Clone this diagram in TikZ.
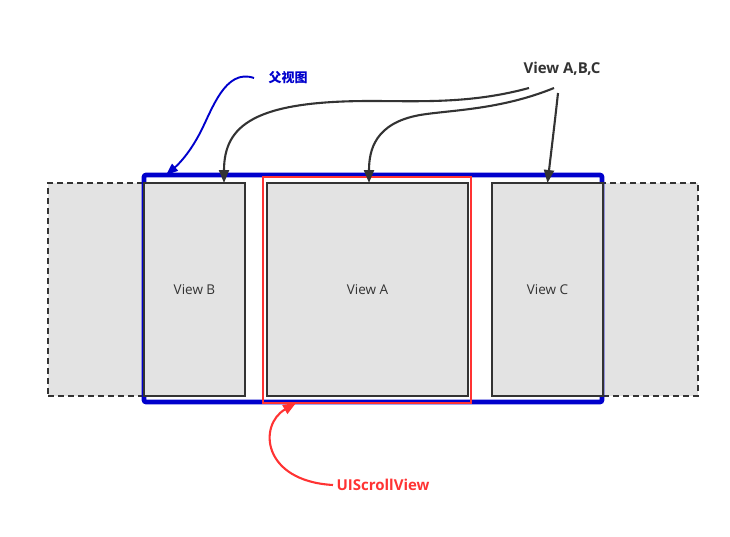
\documentclass[tikz,border=0pt]{standalone}
\usepackage{fontspec}
\setmainfont{Open Sans}
\newfontfamily\cjk{Noto Sans CJK SC}
\usetikzlibrary{arrows.meta}
\definecolor{kdark}{HTML}{333333}
\definecolor{kgray}{HTML}{E3E3E3}
\definecolor{kblue}{HTML}{0000CC}
\definecolor{kred}{HTML}{FF3333}
\tikzset{
  viewbox/.style={draw=kdark,fill=kgray,line width=2.3pt,inner sep=0pt,outer sep=0pt,minimum height=213pt,text=kdark,font=\fontsize{13.5}{16}\selectfont},
  pagebox/.style={viewbox,dash pattern=on 6pt off 4pt},
  ptr/.style={draw=kdark,line width=2.1pt,-{Triangle[length=13pt,width=10pt]}},
}
\begin{document}
\begin{tikzpicture}[x=1pt,y=-1pt]
\useasboundingbox (0,0) rectangle (730,536);
\pgfmathsetmacro{\kmid}{289.5}
\foreach \n/\x/\w in {L/96/96,R/650.5/95}{\node[pagebox,minimum width=\w pt](page\n) at (\x,\kmid){};}
\node[draw=kblue,line width=4.6pt,rounded corners=2pt,inner sep=0pt,outer sep=0pt,minimum width=458pt,minimum height=227pt](parent) at (373,288.5){};
\foreach \n/\x/\w in {B/194.5/101,A/367.5/201,C/547.5/111}{\node[viewbox,minimum width=\w pt](view\n) at (\x,\kmid){View \n};}
\node[draw=kred,line width=2.2pt,inner sep=0pt,outer sep=0pt,minimum width=208pt,minimum height=226pt](scroll) at (367,290){};
\node[text=kblue,font=\cjk\bfseries\fontsize{13}{15}\selectfont](lblParent) at (288,78){父视图};
\node[text=kdark,font=\bfseries\fontsize{15}{18}\selectfont](lblViews) at (562,69){View A,B,C};
\node[text=kred,font=\bfseries\fontsize{15}{18}\selectfont](lblScroll) at (383,485){UIScrollView};
\draw[ptr]([shift={(-33,19)}]lblViews.center) .. controls (470,104) and (420,101) .. (370,101) .. controls (255,101) and (224,125) .. ([xshift=29.5pt]viewB.north);
\draw[ptr]([shift={(-8,19)}]lblViews.center) .. controls (500,110) and (450,110) .. (420,115) .. controls (375,123) and (369,150) .. ([xshift=1.5pt]viewA.north);
\draw[ptr]([shift={(-4,24)}]lblViews.center) .. controls (555,120) .. (viewC.north);
\draw[kblue,line width=1.9pt,-{Triangle[length=12pt,width=9pt]}]([xshift=-34pt]lblParent.center) .. controls (225,68) and (212,110) .. (200,133) .. controls (190,152) and (180,163) .. ([xshift=22pt]parent.north west);
\draw[kred,line width=2.1pt,-{Triangle[length=13pt,width=10pt]}](lblScroll.west) .. controls (262,481) and (258,425) .. ([xshift=-71pt]scroll.south);
\end{tikzpicture}
\end{document}
